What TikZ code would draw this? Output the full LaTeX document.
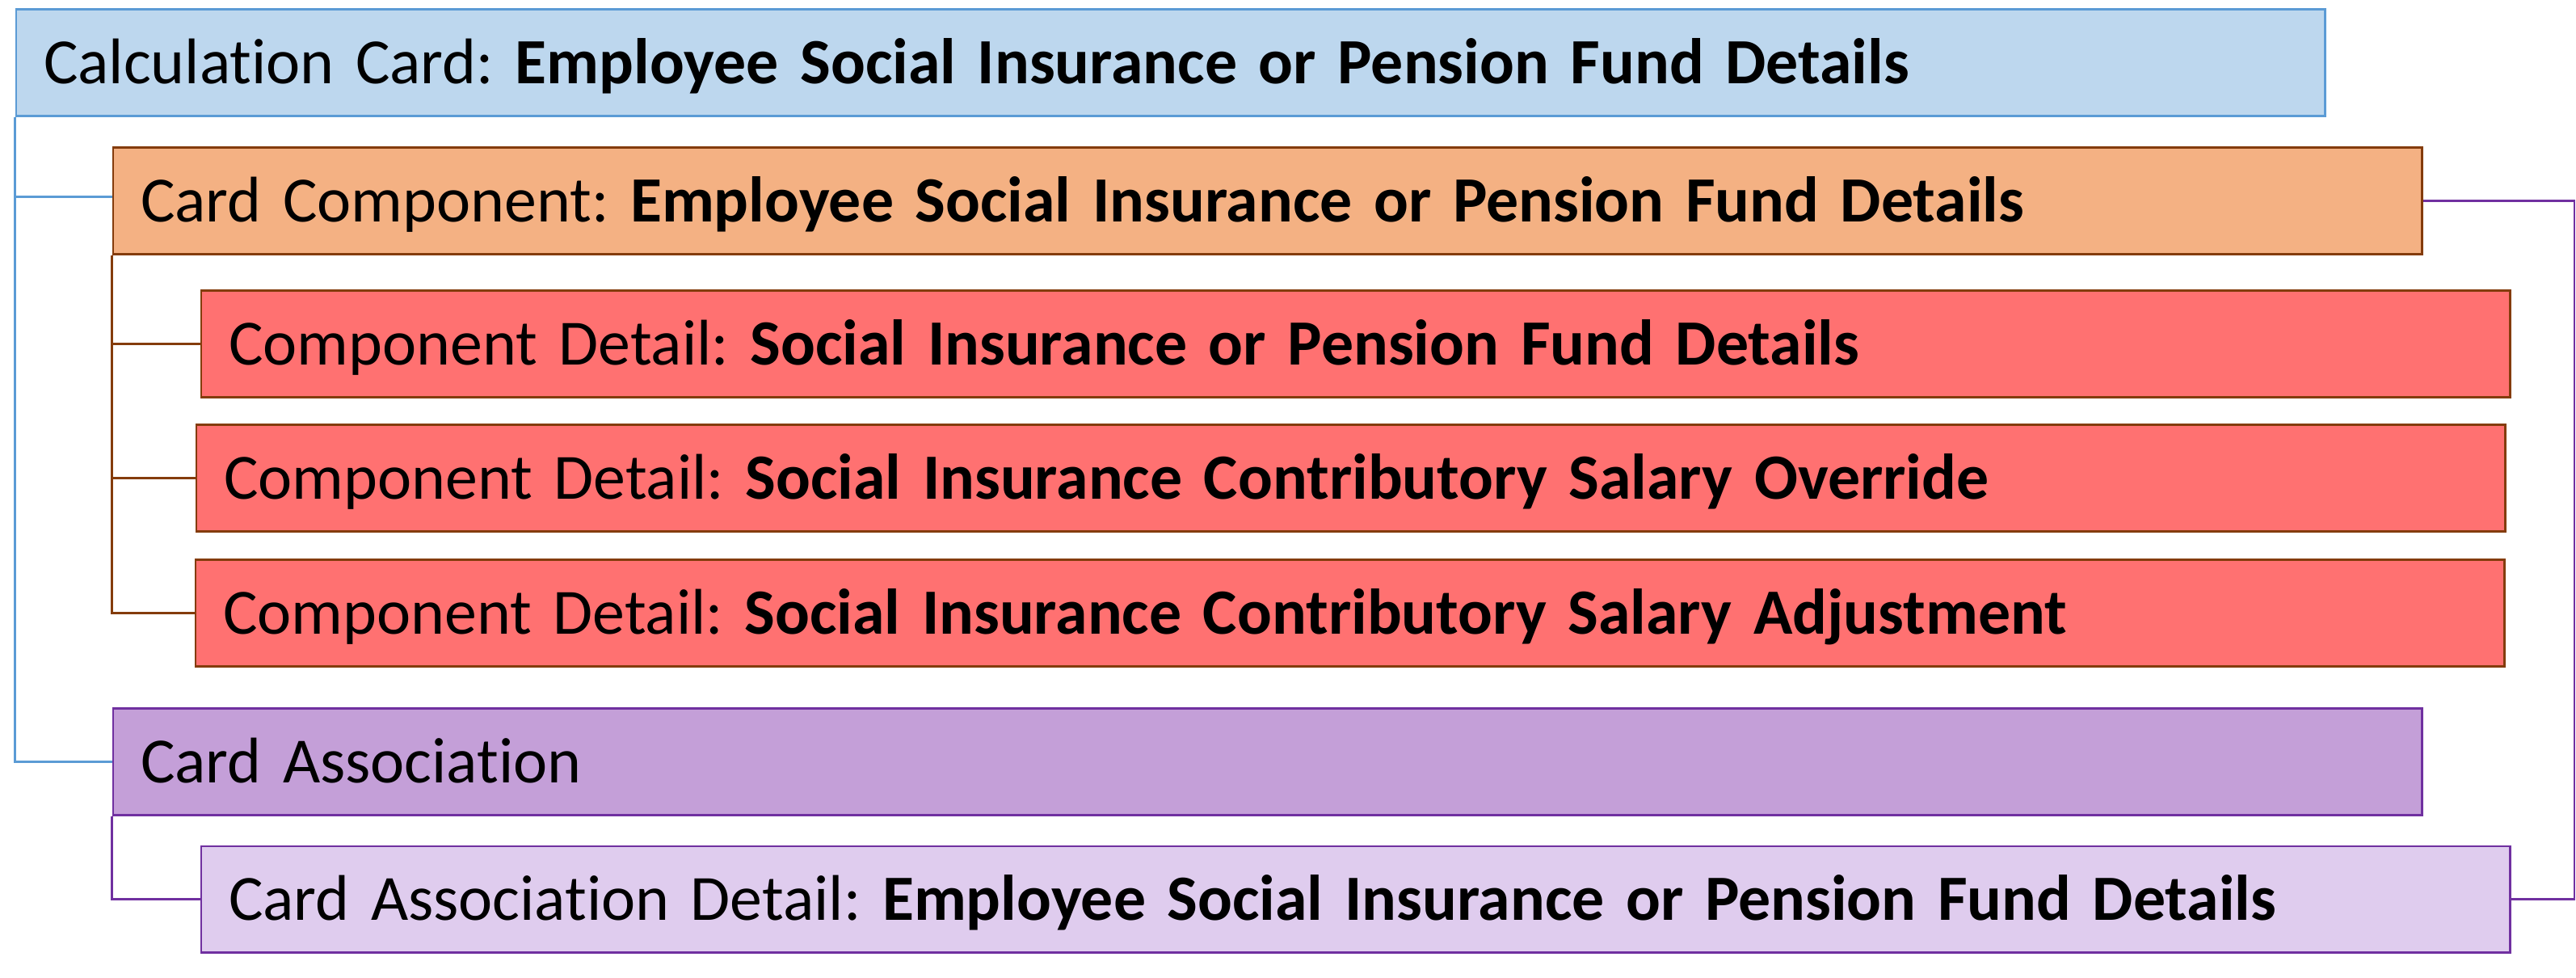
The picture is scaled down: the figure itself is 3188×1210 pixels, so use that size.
\documentclass[tikz,border=0pt]{standalone}
\usepackage{fontspec}
\setmainfont[Ligatures=NoCommon]{Carlito}
\frenchspacing
\definecolor{calcfill}{HTML}{BDD7EE}
\definecolor{calcline}{HTML}{5B9BD5}
\definecolor{compfill}{HTML}{F4B183}
\definecolor{brownline}{HTML}{843C0C}
\definecolor{detfill}{HTML}{FF7171}
\definecolor{assocfill}{HTML}{C49FD8}
\definecolor{purpline}{HTML}{7030A0}
\definecolor{assocdetfill}{HTML}{DFCCEE}
\begin{document}
\begin{tikzpicture}[x=0.01cm,y=-0.01cm,
  card/.style={draw,line width=0.85pt,anchor=north west,minimum height=13.1mm,
    inner xsep=3.4mm,text width=278.8mm,align=left,text height=6mm,text depth=0.8mm,
    font=\fontsize{22.7pt}{27pt}\selectfont},
  link/.style={line width=0.65pt}]
\useasboundingbox (0,0) rectangle (3188,1210);
\node[card,fill=calcfill,draw=calcline] (calc) at (18.5,10.5) {Calculation Card: \textbf{Employee Social Insurance or Pension Fund Details}};
\node[card,fill=compfill,draw=brownline] (comp) at (138.5,181.5) {Card Component: \textbf{Employee Social Insurance or Pension Fund Details}};
\node[card,fill=detfill,draw=brownline] (det1) at (247.5,358.5) {Component Detail: \textbf{Social Insurance or Pension Fund Details}};
\node[card,fill=detfill,draw=brownline] (det2) at (241.5,524.5) {Component Detail: \textbf{Social Insurance Contributory Salary Override}};
\node[card,fill=detfill,draw=brownline] (det3) at (240.5,691.5) {Component Detail: \textbf{Social Insurance Contributory Salary Adjustment}};
\node[card,fill=assocfill,draw=purpline] (assoc) at (138.5,875.5) {Card Association};
\node[card,fill=assocdetfill,draw=purpline] (assocdet) at (247.5,1045.5) {Card Association Detail: \textbf{Employee Social Insurance or Pension Fund Details}};
\coordinate (rail) at (3186,0);
% tree lines
\draw[link,calcline](calc.south west)|-([yshift=0.5mm]comp.west);
\draw[link,calcline](calc.south west)|-(assoc.west);
\draw[link,brownline](comp.south west)|-(det1.west);
\draw[link,brownline](comp.south west)|-(det2.west);
\draw[link,brownline](comp.south west)|-(det3.west);
\draw[link,purpline](assoc.south west)|-(assocdet.west);
\draw[link,purpline](comp.east)--(comp.east-|rail)|-(assocdet.east);
\end{tikzpicture}
\end{document}
